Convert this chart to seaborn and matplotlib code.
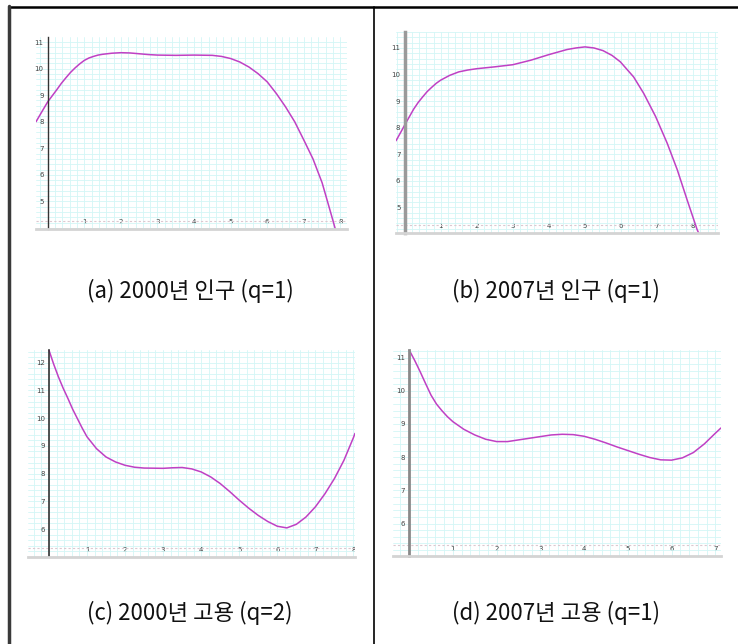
import matplotlib
matplotlib.use("Agg")
import matplotlib.pyplot as plt
from matplotlib.lines import Line2D
from matplotlib.ticker import MultipleLocator
import seaborn as sns

sns.set_style("white")
plt.rcParams['font.family'] = ['Noto Sans CJK KR', 'DejaVu Sans']

# curve values
a_x = [-0.32, -0.15, 0, 0.125, 0.25, 0.375, 0.5, 0.625, 0.75, 0.875, 1, 1.125, 1.25, 1.375,
       1.5, 1.75, 2, 2.25, 2.5, 2.75, 3, 3.5, 4, 4.5, 4.75, 5, 5.25, 5.5, 5.75, 6, 6.25,
       6.5, 6.75, 7, 7.25, 7.5, 7.75, 7.86]
a_y = [8.0, 8.4, 8.75, 8.98, 9.21, 9.45, 9.66, 9.86, 10.03, 10.18, 10.31, 10.4, 10.46, 10.51,
       10.54, 10.58, 10.6, 10.59, 10.56, 10.53, 10.51, 10.5, 10.51, 10.5, 10.46, 10.38, 10.25,
       10.06, 9.81, 9.5, 9.06, 8.56, 8.0, 7.31, 6.6, 5.7, 4.5, 3.96]

b_x = [-0.24, -0.1, 0, 0.125, 0.25, 0.375, 0.5, 0.625, 0.75, 0.875, 1, 1.25, 1.5, 1.75, 2,
       2.5, 3, 3.5, 4, 4.5, 4.75, 5, 5.25, 5.5, 5.75, 5.98, 6.35, 6.63, 6.96, 7.28, 7.56,
       7.83, 8.11, 8.16]
b_y = [7.51, 7.85, 8.1, 8.4, 8.7, 8.95, 9.16, 9.36, 9.52, 9.67, 9.79, 9.97, 10.1, 10.17, 10.22,
       10.29, 10.37, 10.54, 10.75, 10.94, 11.0, 11.04, 11.0, 10.9, 10.72, 10.48, 9.91, 9.29,
       8.42, 7.42, 6.42, 5.3, 4.17, 4.02]

c_x = [0, 0.125, 0.25, 0.375, 0.5, 0.625, 0.75, 0.875, 1, 1.25, 1.5, 1.75, 2, 2.25, 2.5, 3,
       3.25, 3.5, 3.75, 4, 4.25, 4.5, 4.75, 5, 5.25, 5.5, 5.75, 6, 6.25, 6.5, 6.75, 7, 7.25,
       7.5, 7.75, 8, 8.04]
c_y = [12.46, 11.95, 11.49, 11.08, 10.71, 10.32, 9.98, 9.64, 9.33, 8.9, 8.6, 8.42, 8.3, 8.23,
       8.2, 8.19, 8.21, 8.22, 8.17, 8.06, 7.88, 7.64, 7.35, 7.04, 6.75, 6.49, 6.27, 6.1, 6.04,
       6.17, 6.43, 6.8, 7.27, 7.82, 8.48, 9.3, 9.45]

d_x = [0, 0.125, 0.25, 0.375, 0.5, 0.625, 0.75, 0.875, 1, 1.25, 1.5, 1.75, 2, 2.25, 2.5,
       2.75, 3, 3.25, 3.5, 3.75, 4, 4.25, 4.5, 4.75, 5, 5.25, 5.5, 5.75, 6, 6.25, 6.5, 6.75,
       7, 7.13]
d_y = [11.23, 10.92, 10.58, 10.22, 9.87, 9.6, 9.4, 9.22, 9.07, 8.84, 8.67, 8.54, 8.47, 8.47,
       8.52, 8.57, 8.62, 8.67, 8.69, 8.68, 8.63, 8.54, 8.43, 8.31, 8.2, 8.09, 7.99, 7.92, 7.91,
       7.98, 8.14, 8.4, 8.72, 8.88]

captions = ["(a) 2000년 인구 (q=1)", "(b) 2007년 인구 (q=1)",
            "(c) 2000년 고용 (q=2)", "(d) 2007년 고용 (q=1)"]

panels = [
    # data, axes rect, xlim, ylim, xticks, yticks, dashed y, y-axis colour, y-axis width
    (a_x, a_y, [0.0488, 0.6444, 0.4214, 0.2981], (-0.32, 8.18), (3.96, 11.19),
     range(1, 9), range(5, 12), 4.27, '#333333', 1.0),
    (b_x, b_y, [0.5366, 0.6382, 0.4363, 0.3121], (-0.24, 8.69), (4.04, 11.6),
     range(1, 9), range(5, 12), 4.35, '#9a9a9a', 2.5),
    (c_x, c_y, [0.0379, 0.1351, 0.4431, 0.3214], (-0.55, 8.04), (4.99, 12.46),
     range(1, 9), range(6, 13), 5.33, '#333333', 1.2),
    (d_x, d_y, [0.5325, 0.1366, 0.4444, 0.3199], (-0.37, 7.13), (5.02, 11.23),
     range(1, 8), range(6, 12), 5.35, '#8a8a8a', 2.0),
]

fig = plt.figure(figsize=(7.38, 6.44), dpi=100)

for xs, ys, rect, xlim, ylim, xt, yt, dash_y, axis_col, axis_lw in panels:
    ax = fig.add_axes(rect)
    ax.set_axisbelow(True)
    ax.xaxis.set_minor_locator(MultipleLocator(0.2))
    ax.yaxis.set_minor_locator(MultipleLocator(0.2))
    ax.set_xticks(list(xt))
    ax.set_yticks(list(yt))
    ax.grid(which='both', color='#d3f6f6', linewidth=0.6)

    ax.axhline(dash_y, color='#dcc8d0', linewidth=0.8, linestyle=(0, (2, 2)))
    sns.lineplot(x=xs, y=ys, ax=ax, color='#c040c4', linewidth=1.1, sort=False)

    ax.set_xlim(*xlim)
    ax.set_ylim(*ylim)

    for side in ['top', 'right']:
        ax.spines[side].set_visible(False)
    ax.spines['left'].set_position(('data', 0))
    ax.spines['left'].set_color(axis_col)
    ax.spines['left'].set_linewidth(axis_lw)
    ax.spines['bottom'].set_color('#d4d4d4')
    ax.spines['bottom'].set_linewidth(2)

    ax.tick_params(which='minor', length=0)
    ax.tick_params(axis='y', which='major', direction='inout', length=4, width=0.6,
                   color='#555555', pad=1, labelsize=5, labelcolor='#444444')
    ax.tick_params(axis='x', which='major', length=0, pad=-7.5, labelsize=5,
                   labelcolor='#444444')
    for lbl in ax.get_xticklabels():
        lbl.set_family('DejaVu Sans')
        lbl.set_clip_box(ax.bbox)
        lbl.set_clip_on(True)
    for lbl in ax.get_yticklabels():
        lbl.set_family('DejaVu Sans')

# captions centred in the table cells
cap_pos = [(190, 291), (556, 291), (190, 613), (556, 613)]
for (px, py), cap in zip(cap_pos, captions):
    fig.text(px / 738, 1 - py / 644, cap, ha='center', va='center', fontsize=16,
             family=['Noto Sans CJK KR', 'DejaVu Sans'], color='#111111')

# table borders
fig.add_artist(Line2D([9 / 738, 1], [1 - 7 / 644, 1 - 7 / 644], color='black', linewidth=1.8))
fig.add_artist(Line2D([9 / 738, 9 / 738], [0, 1 - 6 / 644], color='#3a3a3a', linewidth=2.5))
fig.add_artist(Line2D([374 / 738, 374 / 738], [0, 1 - 7 / 644], color='black', linewidth=1.2))

fig.savefig("out.png", dpi=100)
